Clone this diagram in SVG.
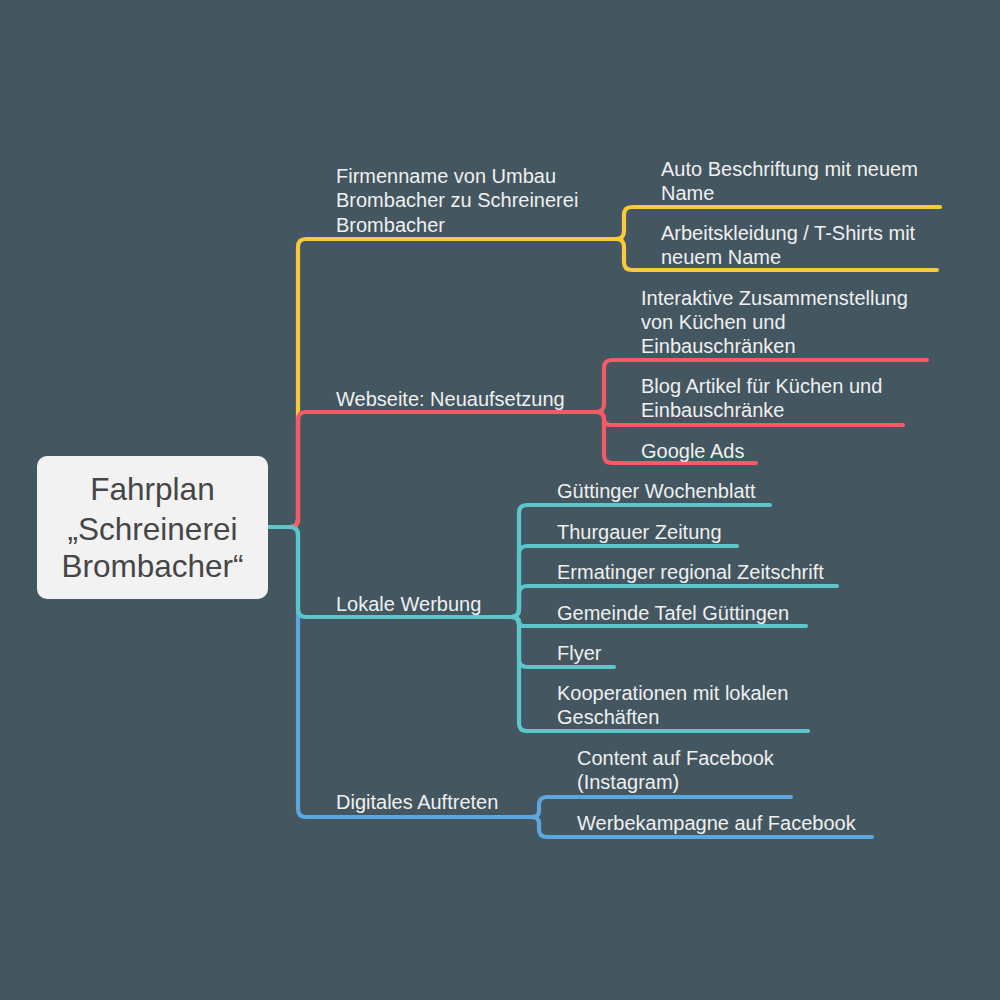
<svg xmlns="http://www.w3.org/2000/svg" width="1000" height="1000" viewBox="0 0 1000 1000">
<style>
.l{fill:none;stroke-width:4.2;stroke-linecap:round;stroke-linejoin:round}
.y{stroke:#f8c93c}.r{stroke:#f45b67}.c{stroke:#5cc6ca}.b{stroke:#5ea6e0}
.t{font-family:"Liberation Sans",Arial,sans-serif;font-size:20px;fill:#eef0f1}
.root{font-family:"Liberation Sans",Arial,sans-serif;font-size:31.5px;fill:#464646;text-anchor:middle}
</style>
<rect width="1000" height="1000" fill="#44565f"/>
<g id="connectors">
<g id="yellow">
<path class="l y" d="M268,527 H290 Q298,527 298,519 V247 Q298,239 306,239 H616"/>
<path class="l y" d="M616,239 Q624,239 624,231 V215 Q624,207 632,207 H940"/>
<path class="l y" d="M616,239 Q624,239 624,247 V262 Q624,270 632,270 H937"/>
</g>
<g id="red">
<path class="l r" d="M268,527 H290 Q298,527 298,519 V420 Q298,412 306,412 H596"/>
<path class="l r" d="M596,412 Q604,412 604,404 V368 Q604,360 612,360 H927"/>
<path class="l r" d="M596,412 Q604,412 604,418.5 Q604,425 610.5,425 H903"/>
<path class="l r" d="M596,412 Q604,412 604,420 V455 Q604,463 612,463 H756"/>
</g>
<g id="blue">
<path class="l b" d="M268,527 H290 Q298,527 298,535 V809 Q298,817 306,817 H531"/>
<path class="l b" d="M531,817 Q539,817 539,811 V805 Q539,797 547,797 H791"/>
<path class="l b" d="M531,817 Q539,817 539,823 V829 Q539,837 547,837 H872"/>
</g>
<g id="cyan">
<path class="l c" d="M268,527 H290 Q298,527 298,535 V609 Q298,617 306,617 H511"/>
<path class="l c" d="M511,617 Q519,617 519,609 V513 Q519,505 527,505 H770"/>
<path class="l c" d="M511,617 Q519,617 519,609 V554 Q519,546 527,546 H737"/>
<path class="l c" d="M511,617 Q519,617 519,609 V594 Q519,586 527,586 H837"/>
<path class="l c" d="M511,617 Q519,617 519,621.5 Q519,626 523.5,626 H806"/>
<path class="l c" d="M511,617 Q519,617 519,625 V659 Q519,667 527,667 H614"/>
<path class="l c" d="M511,617 Q519,617 519,625 V723 Q519,731 527,731 H808"/>
</g>
</g>
<g id="root">
<rect x="37" y="456" width="231" height="143" rx="10" fill="#f2f2f2"/>
<text class="root" x="152.5" y="500">Fahrplan</text>
<text class="root" x="152.5" y="540">„Schreinerei</text>
<text class="root" x="152.5" y="577">Brombacher“</text>
</g>
<g id="n-firmenname"><text class="t" x="336" y="183">Firmenname von Umbau</text><text class="t" x="336" y="207">Brombacher zu Schreinerei</text><text class="t" x="336" y="232">Brombacher</text></g>
<g id="n-auto"><text class="t" x="661" y="176">Auto Beschriftung mit neuem</text><text class="t" x="661" y="200">Name</text></g>
<g id="n-arbeit"><text class="t" x="661" y="240">Arbeitskleidung / T-Shirts mit</text><text class="t" x="661" y="264">neuem Name</text></g>
<g id="n-webseite"><text class="t" x="336" y="406">Webseite: Neuaufsetzung</text></g>
<g id="n-interaktiv"><text class="t" x="641" y="305">Interaktive Zusammenstellung</text><text class="t" x="641" y="329">von Küchen und</text><text class="t" x="641" y="353">Einbauschränken</text></g>
<g id="n-blog"><text class="t" x="641" y="393">Blog Artikel für Küchen und</text><text class="t" x="641" y="417">Einbauschränke</text></g>
<g id="n-google"><text class="t" x="641" y="458">Google Ads</text></g>
<g id="n-lokal"><text class="t" x="336" y="611">Lokale Werbung</text></g>
<g id="n-guett"><text class="t" x="557" y="498">Güttinger Wochenblatt</text></g>
<g id="n-thurg"><text class="t" x="557" y="539">Thurgauer Zeitung</text></g>
<g id="n-ermat"><text class="t" x="557" y="579">Ermatinger regional Zeitschrift</text></g>
<g id="n-gemeinde"><text class="t" x="557" y="620">Gemeinde Tafel Güttingen</text></g>
<g id="n-flyer"><text class="t" x="557" y="660">Flyer</text></g>
<g id="n-koop"><text class="t" x="557" y="700">Kooperationen mit lokalen</text><text class="t" x="557" y="724">Geschäften</text></g>
<g id="n-digital"><text class="t" x="336" y="809">Digitales Auftreten</text></g>
<g id="n-content"><text class="t" x="577" y="765">Content auf Facebook</text><text class="t" x="577" y="789">(Instagram)</text></g>
<g id="n-werbe"><text class="t" x="577" y="830">Werbekampagne auf Facebook</text></g>
</svg>
